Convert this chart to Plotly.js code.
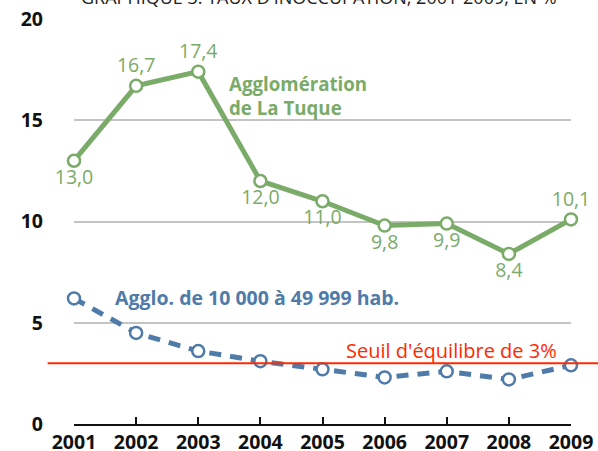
<!DOCTYPE html>
<html>
<head>
<meta charset="utf-8">
<script src="https://cdn.plot.ly/plotly-3.0.1.min.js"></script>
<style>html,body{margin:0;padding:0;background:#fff;}#chart{width:598px;height:451px;}</style>
</head>
<body>
<div id="chart"></div>
<script>
var years = [2001, 2002, 2003, 2004, 2005, 2006, 2007, 2008, 2009];
var laTuque = [13.0, 16.7, 17.4, 12.0, 11.0, 9.8, 9.9, 8.4, 10.1];
var laTuqueLabels = ["13,0", "16,7", "17,4", "12,0", "11,0", "9,8", "9,9", "8,4", "10,1"];
var laTuquePos = ["bottom center", "top center", "top center", "bottom center", "bottom center", "bottom center", "bottom center", "bottom center", "top center"];
var agglo = [6.2, 4.5, 3.6, 3.1, 2.7, 2.3, 2.6, 2.2, 2.9];
var seuil = 3;
var yTicks = [0, 5, 10, 15, 20];

var green = "#7aab68";
var blue = "#4f7ba9";
var red = "#ff2a00";
var fontFam = "Open Sans, sans-serif";

var traces = [
  {
    x: years, y: agglo, type: "scatter", mode: "lines+markers",
    line: {color: blue, width: 5, dash: "12px,9px"},
    marker: {symbol: "circle", size: 12, color: "#ffffff", line: {color: blue, width: 2.5}},
    cliponaxis: false, hoverinfo: "skip"
  },
  {
    x: years, y: laTuque, type: "scatter", mode: "lines+markers+text",
    line: {color: green, width: 5},
    marker: {symbol: "circle", size: 12, color: "#ffffff", line: {color: green, width: 2.5}},
    text: laTuqueLabels, textposition: laTuquePos,
    textfont: {family: fontFam, size: 19.5, color: green},
    cliponaxis: false, hoverinfo: "skip"
  }
];

var layout = {
  width: 598, height: 451,
  margin: {l: 74, r: 27, t: 19, b: 27},
  paper_bgcolor: "#ffffff", plot_bgcolor: "#ffffff",
  showlegend: false,
  font: {family: fontFam, color: "#111"},
  xaxis: {
    range: [2001, 2009], tickvals: years, ticktext: years.map(String),
    showgrid: false, zeroline: false,
    showline: true, linecolor: "#111", linewidth: 2,
    ticks: "inside", ticklen: 7, tickwidth: 2, tickcolor: "#111",
    tickfont: {family: fontFam, size: 19.5, color: "#111", weight: "bold"},
    ticklabelstandoff: 0, fixedrange: true
  },
  yaxis: {
    range: [0, 20], tickvals: yTicks, ticktext: yTicks.map(String),
    showgrid: true, gridcolor: "#c4c4c4", gridwidth: 2,
    zeroline: false, showline: false, ticks: "",
    tickfont: {family: fontFam, size: 19.5, color: "#111", weight: "bold"},
    ticklabelstandoff: 30, fixedrange: true
  },
  shapes: [
    {type: "line", xref: "paper", yref: "y", x0: -0.053, x1: 1.06, y0: seuil, y1: seuil,
     line: {color: red, width: 2}, layer: "above"}
  ],
  annotations: [
    {xref: "x", yref: "y", x: 2003.46, y: 16.2, xanchor: "left", yanchor: "middle", showarrow: false, align: "left",
     text: "<b>Agglomération<br>de La Tuque</b>", font: {family: fontFam, size: 18.7, color: green}},
    {xref: "x", yref: "y", x: 2001.63, y: 6.27, xanchor: "left", yanchor: "middle", showarrow: false,
     text: "<b>Agglo. de 10 000 à 49 999 hab.</b>", font: {family: fontFam, size: 19.5, color: blue}},
    {xref: "x", yref: "y", x: 2007.08, y: 3.65, xanchor: "center", yanchor: "middle", showarrow: false,
     text: "Seuil d'équilibre de 3%", font: {family: fontFam, size: 20, color: red}},
    {xref: "paper", yref: "paper", x: 0.01, y: 1.02, xanchor: "left", yanchor: "bottom", showarrow: false,
     text: "GRAPHIQUE 3. TAUX D'INOCCUPATION, 2001-2009, EN %", font: {family: fontFam, size: 18, color: "#222"}}
  ]
};

Plotly.newPlot("chart", traces, layout, {displayModeBar: false, staticPlot: true});
</script>
</body>
</html>
